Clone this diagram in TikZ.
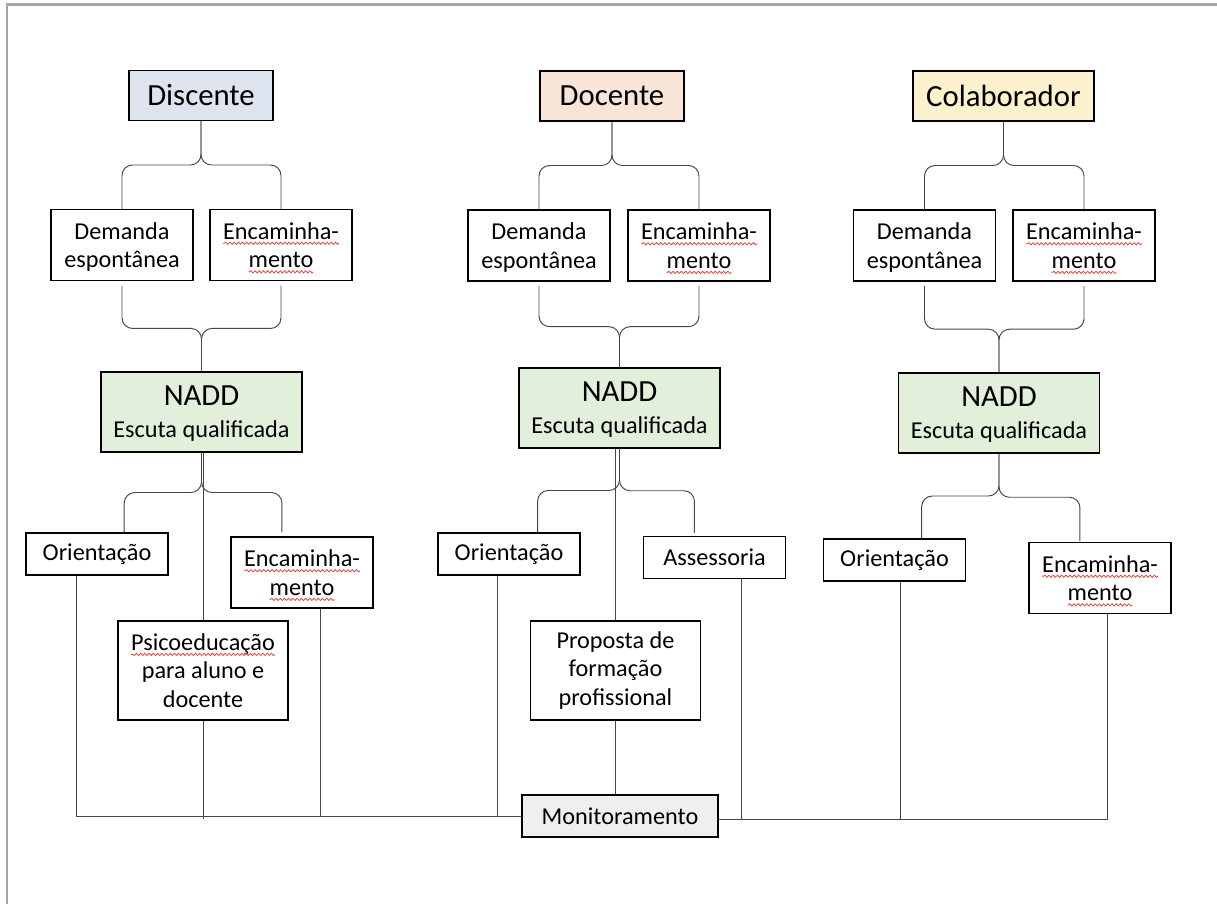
\documentclass[tikz,border=0pt]{standalone}
\usepackage{fontspec}
\setmainfont{Carlito}
\usetikzlibrary{calc,positioning,decorations.pathmorphing}
\definecolor{DisBlue}{HTML}{DEE3F0}
\definecolor{DocPeach}{HTML}{F8E5D8}
\definecolor{ColSand}{HTML}{FCF1CD}
\definecolor{NaddGreen}{HTML}{E2EFDA}
\definecolor{MonGray}{HTML}{EFEFEF}
\definecolor{SpellRed}{HTML}{E8453C}
\newlength{\spellwd}
\tikzset{
    block/.style = {draw, rectangle, line width=0.7pt, align=center,
        font=\fontsize{13.8}{16.3}\selectfont,
        minimum width=2.84cm, minimum height=1.42cm, inner sep=1pt},
    role/.style = {block, minimum width=2.88cm, minimum height=1cm,
        font=\fontsize{17.5}{20}\selectfont},
    core/.style = {block, fill=NaddGreen, minimum width=4.02cm, minimum height=1.6cm},
    small/.style = {block, minimum height=0.84cm},
    tall/.style = {block, minimum width=3.4cm, minimum height=1.98cm},
    link/.style = {draw=black!72, line width=0.55pt},
    brc/.style = {link, rounded corners=6pt},
    frame/.style = {draw=black!35, line width=1.2pt},
    wave/.style = {draw=SpellRed, line width=0.45pt, decorate,
        decoration={snake, amplitude=0.65pt, segment length=2.4pt}}
}
% red spell-check wave under a word
\newcommand{\spell}[1]{\settowidth{\spellwd}{#1}#1\tikz[overlay, baseline=0pt]
    \draw[wave] (0pt,-2.4pt) -- (-\spellwd,-2.4pt);}
% curly split: tip, left end, right end
\newcommand{\fork}[3]{%
    \draw[brc] (#2) |- ($(#1)!.5!(#2)$) -| (#1);
    \draw[brc] (#3) |- ($(#1)!.5!(#3)$) -| (#1);
}
\newcommand{\bignadd}{{\fontsize{17.5}{20}\selectfont NADD}\\[2pt]\smash{Escuta qualificada}}
\newcommand{\demand}{Demanda\\\smash{espontânea}}

\begin{document}
\begin{tikzpicture}[x=0.02cm, y=-0.02cm]
    \useasboundingbox (0,0) rectangle (1217,904);
    \draw[frame] (7,904) -- (7,4.5) -- (1217,4.5);

    % Discente
    \node [role, fill=DisBlue] (dis) at (201,95.5) {Discente};
    \node [block] (dem1) at (122,245) {\demand};
    \node [block] (enc1) at (281,245) {\spell{Encaminha-}\\\spell{mento}};
    \node [core] (nadd1) at (201.5,412) {\bignadd};
    \node [small] (ori1) at (97,554) {Orientação};
    \node [block] (encb1) at (302,572.5) {\spell{Encaminha-}\\\spell{mento}};
    \node [tall] (psi1) at (203,670.5) {\spell{Psicoeducação}\\para aluno e\\docente};

    % Docente
    \node [role, fill=DocPeach] (doc) at (612,96) {Docente};
    \node [block] (dem2) at (539,245.5) {\demand};
    \node [block] (enc2) at (699,245.5) {\spell{Encaminha-}\\\spell{mento}};
    \node [core] (nadd2) at (619.5,408) {\bignadd};
    \node [small] (ori2) at (509,554) {Orientação};
    \node [small] (ass2) at (714.5,557.5) {Assessoria};
    \node [tall] (pro2) at (615.5,670.5) {Proposta de\\formação\\profissional};
    \node [small, fill=MonGray, minimum width=3.92cm] (mon) at (620,816) {Monitoramento};

    % Colaborador
    \node [role, fill=ColSand, minimum width=3.62cm] (col) at (1003.5,96) {Colaborador};
    \node [block] (dem3) at (924.5,245.5) {\demand};
    \node [block] (enc3) at (1084,245.5) {\spell{Encaminha-}\\\spell{mento}};
    \node [core] (nadd3) at (999,413) {\bignadd};
    \node [small] (ori3) at (894.5,560) {Orientação};
    \node [block] (encb3) at (1100,578) {\spell{Encaminha-}\\\spell{mento}};

    % braces down to the demands
    \fork{dis.south}{dem1.north}{enc1.north}
    \fork{doc.south}{dem2.north}{enc2.north}
    \fork{col.south}{dem3.north}{enc3.north}

    % braces into NADD
    \coordinate (dem1b) at ([yshift=-2.5pt]dem1.south);
    \coordinate (enc1b) at ([yshift=-2.5pt]enc1.south);
    \coordinate (dem2b) at ([yshift=-2.5pt]dem2.south);
    \coordinate (enc2b) at ([yshift=-2.5pt]enc2.south);
    \coordinate (dem3b) at ([yshift=-2.5pt]dem3.south);
    \coordinate (enc3b) at ([yshift=-2.5pt]enc3.south);
    \fork{nadd1.north}{dem1b}{enc1b}
    \fork{nadd2.north}{dem2b}{enc2b}
    \fork{nadd3.north}{dem3b}{enc3b}

    % braces out of NADD
    \coordinate (o1) at ($(ori1.north west)!.69!(ori1.north east)$);
    \coordinate (e1) at ($(encb1.north west)!.36!(encb1.north east)+(0,-4)$);
    \coordinate (o2) at ($(ori2.north west)!.70!(ori2.north east)$);
    \coordinate (a2) at ($(ass2.north west)!.36!(ass2.north east)+(0,-3)$);
    \coordinate (o3) at ($(ori3.north west)!.69!(ori3.north east)$);
    \coordinate (e3) at ($(encb3.north west)!.36!(encb3.north east)+(0,-1)$);
    \fork{nadd1.south}{o1}{e1}
    \fork{nadd2.south}{o2}{a2}
    \fork{nadd3.south}{o3}{e3}
    \draw [link] (psi1.north) -- (psi1.north |- nadd1.south);
    \draw [link] (pro2.north) -- (pro2.north |- nadd2.south);

    % lines to Monitoramento
    \coordinate (d1) at ($(ori1.south west)!.36!(ori1.south east)$);
    \coordinate (d2) at ($(encb1.south west)!.63!(encb1.south east)$);
    \coordinate (d3) at ($(ori2.south west)!.42!(ori2.south east)$);
    \coordinate (d4) at ($(ass2.south west)!.69!(ass2.south east)$);
    \coordinate (d5) at ($(ori3.south west)!.54!(ori3.south east)$);
    \coordinate (d6) at ($(encb3.south west)!.555!(encb3.south east)$);
    \coordinate (m1) at ([yshift=-2pt]mon.east);
    \draw [link] (d1) |- (mon.west);
    \draw [link] (psi1.south) -- ($(psi1.south |- mon.west)+(0,3)$);
    \draw [link] (d2) -- (d2 |- mon.west);
    \draw [link] (d3) -- (d3 |- mon.west);
    \draw [link] (pro2.south) -- (pro2.south |- mon.north);
    \draw [link] (d6) |- (m1);
    \draw [link] (d4) -- (d4 |- m1);
    \draw [link] (d5) -- (d5 |- m1);
\end{tikzpicture}
\end{document}
